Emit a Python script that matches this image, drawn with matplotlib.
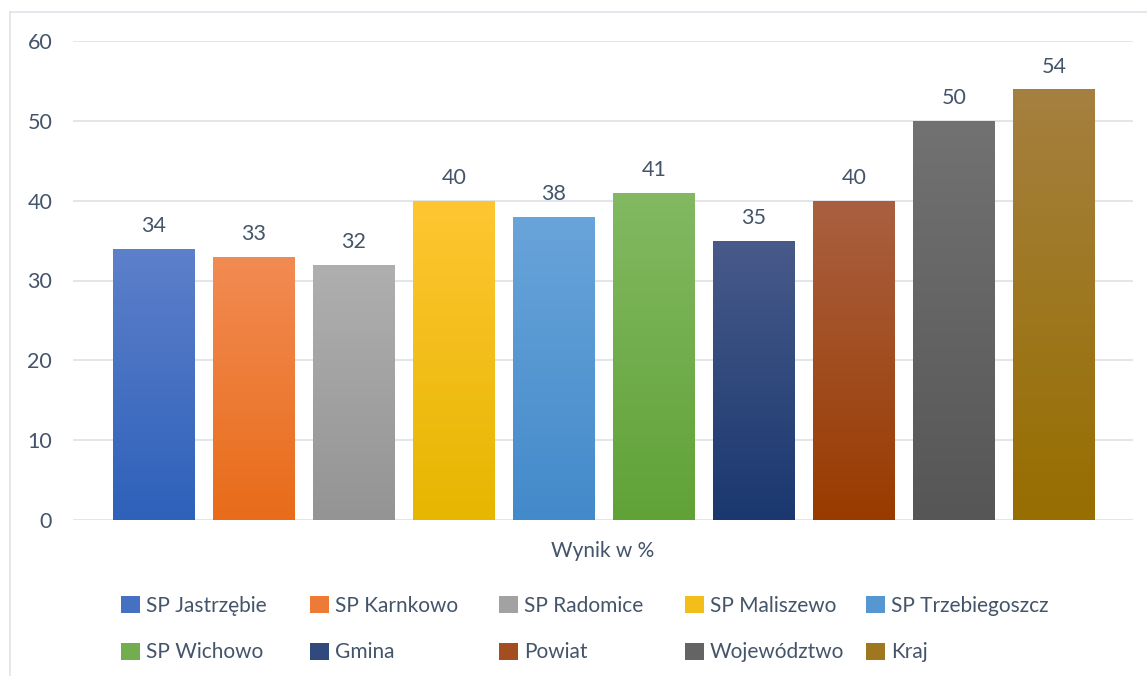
import matplotlib
matplotlib.use("Agg")
import matplotlib.pyplot as plt
import numpy as np
from matplotlib.colors import LinearSegmentedColormap, to_rgb
from matplotlib.patches import Patch
from matplotlib.lines import Line2D

categories = ["SP Jastrzębie", "SP Karnkowo", "SP Radomice", "SP Maliszewo",
              "SP Trzebiegoszcz", "SP Wichowo", "Gmina", "Powiat",
              "Województwo", "Kraj"]
values = [34, 33, 32, 40, 38, 41, 35, 40, 50, 54]
top_colors = ["#5d80ca", "#f28b53", "#afafaf", "#ffc632", "#69a4da",
              "#82b962", "#485a8a", "#aa6040", "#727272", "#a58040"]
bottom_colors = ["#2e61ba", "#e86c19", "#949494", "#e6b600", "#438aca",
                 "#61a237", "#1a386f", "#993b00", "#565656", "#976e00"]
xlabel = "Wynik w %"
yticks = [0, 10, 20, 30, 40, 50, 60]

TXT = "#44546a"
FONT = "Lato"
plt.rcParams["font.family"] = [FONT, "DejaVu Sans"]

fig = plt.figure(figsize=(11.47, 6.76), dpi=100)
ax = fig.add_axes([73/1147, 1-520/676, (1133-73)/1147, (520-41)/676])

x = np.arange(len(values))
width = 0.82
bars = ax.bar(x, values, width=width, color="none", edgecolor="none", zorder=3)
grad = np.linspace(1, 0, 256).reshape(-1, 1)
for b, tc, bc, v in zip(bars, top_colors, bottom_colors, values):
    cmap = LinearSegmentedColormap.from_list("g", [bc, tc])
    x0 = b.get_x()
    im = ax.imshow(grad, cmap=cmap, extent=(x0, x0 + b.get_width(), 0, b.get_height()),
                   aspect="auto", zorder=3, interpolation="bilinear", vmin=0, vmax=1)
    im.set_clip_path(b)
    ax.text(b.get_x() + b.get_width()/2, v + 2.8, str(v), ha="center", va="center",
            fontsize=15.5, color=TXT, zorder=4)

ax.set_xlim(-0.81, 9.79)
ax.set_ylim(0, 60)
ax.set_yticks(yticks)
ax.set_yticklabels([str(t) for t in yticks])
ax.set_xticks([])
ax.tick_params(axis="y", length=0, pad=15, labelsize=15.5, labelcolor=TXT)
ax.grid(axis="y", color="#dfe3e8", linewidth=1.3, zorder=0)
ax.set_axisbelow(True)
for s in ax.spines.values():
    s.set_visible(False)

fig.text(603/1147, 1-551/676, xlabel, ha="center", va="center", fontsize=15, color=TXT)

mid_colors = [tuple((np.array(to_rgb(t)) + np.array(to_rgb(b))) / 2)
              for t, b in zip(top_colors, bottom_colors)]
handles = [Patch(facecolor=mc, edgecolor="none") for mc in mid_colors]

# legend: 2 rows x 5 columns, one legend per column
col_left = [121, 310, 499, 685, 866]
for c, xl in enumerate(col_left):
    idx = [c, c + 5]
    fig.legend([handles[i] for i in idx], [categories[i] for i in idx],
               loc="upper left", bbox_to_anchor=(xl/1147, 1-596/676),
               frameon=False, fontsize=15, labelcolor=TXT,
               handlelength=0.9, handleheight=0.9, handletextpad=0.3,
               labelspacing=1.27, borderpad=0, borderaxespad=0)

# chart frame (left and top edges)
fig.add_artist(Line2D([10/1147, 10/1147], [0, 1-12/676], color="#dfe3e8", linewidth=1.2))
fig.add_artist(Line2D([10/1147, 1], [1-12/676, 1-12/676], color="#dfe3e8", linewidth=1.2))

fig.savefig("out.png", dpi=100)
